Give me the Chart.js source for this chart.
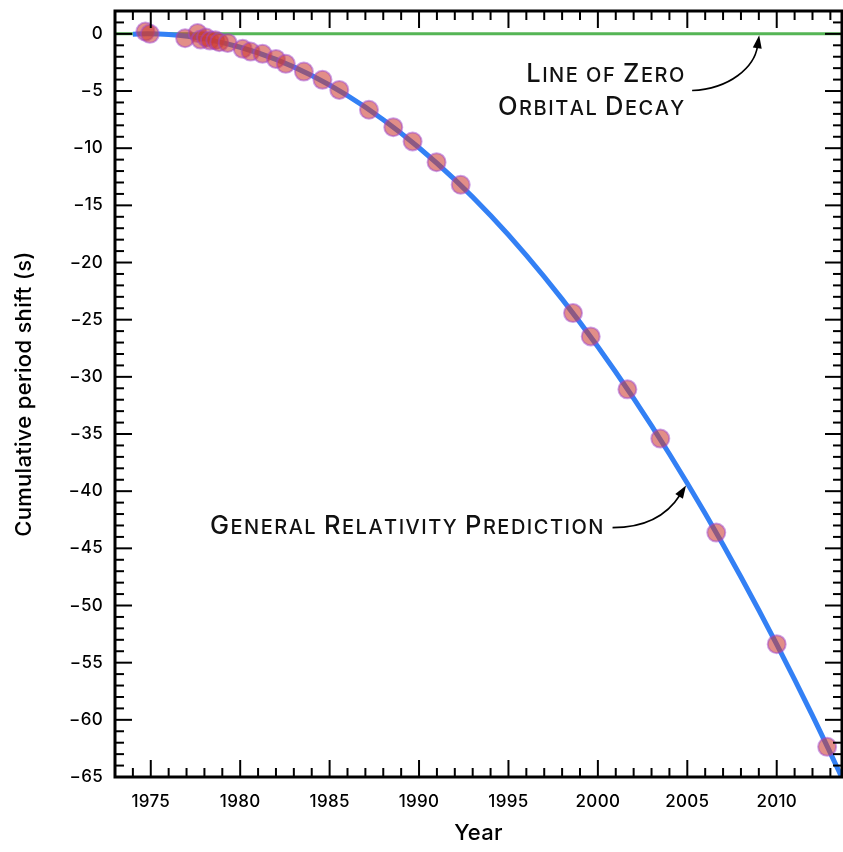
<!DOCTYPE html>
<html>
<head>
<meta charset="utf-8">
<script src="https://cdn.jsdelivr.net/npm/chart.js@4"></script>
<style>
  html, body { margin: 0; padding: 0; background: #fff; }
  #wrap { width: 843px; height: 852px; }
</style>
</head>
<body>
<div id="wrap"><canvas id="c" width="843" height="852"></canvas></div>
<script>
// ---- data ----
const obsYears  = [1974.7, 1974.95, 1976.92, 1977.62, 1977.79, 1978.09, 1978.31, 1978.61, 1978.83, 1979.30,
                   1980.14, 1980.58, 1981.25, 1982.0, 1982.55, 1983.56, 1984.6, 1985.54, 1987.2, 1988.56,
                   1989.64, 1990.98, 1992.33, 1998.61, 1999.6, 2001.65, 2003.49, 2006.62, 2010.0, 2012.82];
const obsShift  = [0.2, 0.0, -0.38, 0.08, -0.5, -0.32, -0.59, -0.56, -0.73, -0.79,
                   -1.31, -1.55, -1.75, -2.19, -2.62, -3.30, -4.02, -4.9, -6.64, -8.16,
                   -9.41, -11.22, -13.2, -24.42, -26.46, -31.09, -35.4, -43.62, -53.38, -62.36];

const grYears   = [1974.0, 1974.8, 1976, 1978, 1980, 1982, 1984, 1986, 1988, 1990, 1992,
                   1994, 1996, 1998, 2000, 2002, 2004, 2006, 2008, 2010, 2012, 2014];
const grShift   = [-0.03, 0, -0.06, -0.44, -1.17, -2.23, -3.65, -5.41, -7.51, -9.96, -12.75,
                   -15.89, -19.37, -23.2, -27.37, -31.89, -36.75, -41.96, -47.51, -53.4, -59.64, -66.23];

const zeroYears = [1973, 2014];
const zeroShift = [0, 0];

const xTickLabels = [1975, 1980, 1985, 1990, 1995, 2000, 2005, 2010];
const yTickLabels = [0, -5, -10, -15, -20, -25, -30, -35, -40, -45, -50, -55, -60, -65];

const FONT = 'Inter, "Open Sans", sans-serif';

const toXY = (xs, ys) => xs.map((v, i) => ({ x: v, y: ys[i] }));

// small caps text: uppercase letters big, others small, right-aligned at xr
function smallCaps(ctx, text, xr, baseline, big, small) {
  const parts = [];
  for (const ch of text) {
    const isBig = ch !== ch.toLowerCase();
    parts.push({ t: ch.toUpperCase(), f: '500 ' + (isBig ? big : small) + 'px ' + FONT });
  }
  let w = 0;
  const spacing = 1.5;
  for (const p of parts) { ctx.font = p.f; p.w = ctx.measureText(p.t).width; w += p.w + spacing; }
  w -= spacing;
  let x = xr - w;
  ctx.textAlign = 'left';
  ctx.textBaseline = 'alphabetic';
  for (const p of parts) { ctx.font = p.f; ctx.fillText(p.t, x, baseline); x += p.w + spacing; }
}

function arrow(ctx, s, c1, c2, t) {
  const dx = t[0] - c2[0], dy = t[1] - c2[1];
  const L = Math.hypot(dx, dy), ux = dx / L, uy = dy / L;
  const hl = 13, hw = 4.5;
  const bx = t[0] - ux * hl, by = t[1] - uy * hl;
  ctx.beginPath();
  ctx.moveTo(s[0], s[1]);
  ctx.bezierCurveTo(c1[0], c1[1], c2[0], c2[1], bx + ux * 2, by + uy * 2);
  ctx.lineWidth = 1.6;
  ctx.strokeStyle = '#000';
  ctx.stroke();
  ctx.beginPath();
  ctx.moveTo(t[0], t[1]);
  ctx.lineTo(bx - uy * hw, by + ux * hw);
  ctx.lineTo(bx + uy * hw, by - ux * hw);
  ctx.closePath();
  ctx.fillStyle = '#000';
  ctx.fill();
}

const frameTicks = {
  id: 'frameTicks',
  beforeDraw(chart) { chart.ctx.letterSpacing = '0.3px'; },
  afterDraw(chart) {
    const { ctx, chartArea: a, scales: { x, y } } = chart;
    ctx.save();
    ctx.letterSpacing = '0px';
    ctx.strokeStyle = '#000';
    ctx.lineWidth = 2;
    const seg = (x1, y1, x2, y2) => { ctx.beginPath(); ctx.moveTo(x1, y1); ctx.lineTo(x2, y2); ctx.stroke(); };
    for (let v = Math.ceil(x.min); v <= x.max; v++) {
      const px = x.getPixelForValue(v);
      const len = xTickLabels.includes(v) ? 17 : 9;
      seg(px, a.bottom, px, a.bottom - len);
      seg(px, a.top, px, a.top + len);
    }
    for (let v = Math.ceil(y.min); v <= y.max; v++) {
      const py = y.getPixelForValue(v);
      const len = yTickLabels.includes(v) ? 17 : 9;
      seg(a.left, py, a.left + len, py);
      seg(a.right, py, a.right - len, py);
    }
    ctx.lineWidth = 3;
    ctx.strokeRect(a.left, a.top, a.right - a.left, a.bottom - a.top);

    // annotations (anchored in data coordinates)
    const P = (yr, val) => [x.getPixelForValue(yr), y.getPixelForValue(val)];
    ctx.fillStyle = '#111';
    let p = P(2004.83, -4.23);
    smallCaps(ctx, 'Line of Zero', p[0], p[1], 25.5, 20);
    p = P(2004.83, -7.08);
    smallCaps(ctx, 'Orbital Decay', p[0], p[1], 25.5, 20);
    arrow(ctx, P(2005.27, -4.96), P(2007.4, -4.8), P(2008.75, -2.9), P(2009.02, -0.12));

    p = P(2000.31, -43.78);
    ctx.fillStyle = '#111';
    smallCaps(ctx, 'General Relativity Prediction', p[0], p[1], 25.5, 20);
    arrow(ctx, P(2000.82, -43.19), P(2002.9, -43.19), P(2004.0, -41.8), P(2004.93, -39.5));
    ctx.restore();
  }
};

const zeroPad = s => { s.paddingLeft = 0; s.paddingRight = 0; s.paddingTop = 0; s.paddingBottom = 0; };

new Chart(document.getElementById('c'), {
  type: 'scatter',
  data: {
    datasets: [
      {
        label: 'Observed',
        data: toXY(obsYears, obsShift),
        pointRadius: 9,
        pointBorderWidth: 2,
        backgroundColor: 'rgba(205,60,50,0.58)',
        borderColor: 'rgba(160,70,205,0.5)',
        showLine: false,
        order: 0
      },
      {
        label: 'General Relativity Prediction',
        data: toXY(grYears, grShift),
        showLine: true,
        borderColor: '#3380f5',
        borderWidth: 5,
        pointRadius: 0,
        cubicInterpolationMode: 'monotone',
        order: 1
      },
      {
        label: 'Zero orbital decay',
        data: toXY(zeroYears, zeroShift),
        showLine: true,
        borderColor: '#55b555',
        borderWidth: 3,
        pointRadius: 0,
        order: 2
      }
    ]
  },
  options: {
    responsive: false,
    animation: false,
    events: [],
    layout: { autoPadding: false, padding: { left: 0, top: 11, right: 1, bottom: 0 } },
    plugins: { legend: { display: false }, tooltip: { enabled: false } },
    scales: {
      x: {
        type: 'linear',
        min: 1973.0,
        max: 2013.65,
        afterBuildTicks: s => { s.ticks = xTickLabels.map(v => ({ value: v })); },
        afterFit: s => { s.height = 75; zeroPad(s); },
        grid: { display: false, drawTicks: false },
        border: { display: false },
        ticks: {
          autoSkip: false, maxRotation: 0, padding: 15,
          color: '#000',
          font: { family: FONT, size: 17, weight: 500 },
          callback: v => String(v)
        },
        title: {
          display: true, text: 'Year', color: '#000',
          font: { family: FONT, size: 22, weight: 500 },
          padding: { top: 0, bottom: 5 }
        }
      },
      y: {
        type: 'linear',
        min: -65,
        max: 2,
        afterBuildTicks: s => { s.ticks = yTickLabels.map(v => ({ value: v })); },
        afterFit: s => { s.width = 115; zeroPad(s); },
        grid: { display: false, drawTicks: false },
        border: { display: false },
        ticks: {
          autoSkip: false, padding: 12,
          color: '#000',
          font: { family: FONT, size: 17, weight: 500 },
          callback: v => (v < 0 ? '\u2212' + Math.abs(v) : String(v))
        },
        title: {
          display: true, text: 'Cumulative period shift (s)', color: '#000',
          font: { family: FONT, size: 22, weight: 500 },
          padding: { top: 11, bottom: 0 }
        }
      }
    }
  },
  plugins: [frameTicks]
});
</script>
</body>
</html>
